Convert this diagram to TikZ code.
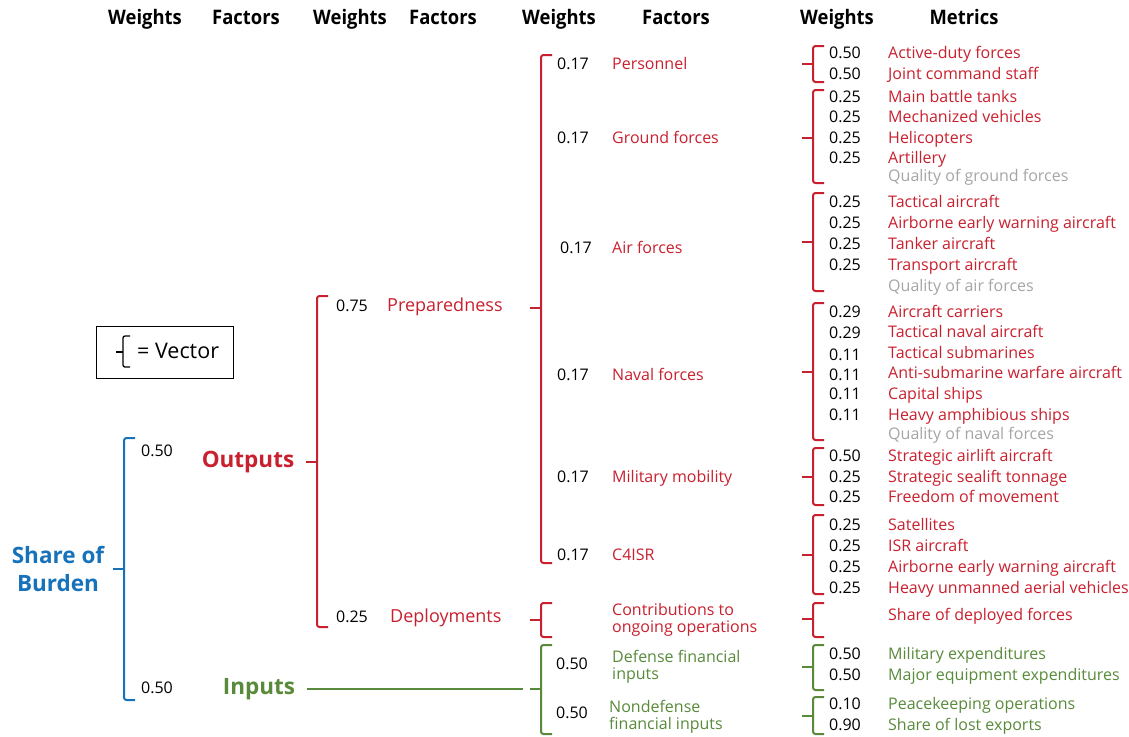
\documentclass[tikz,border=0pt]{standalone}
\usepackage{fontspec}
\setmainfont{Open Sans}
\newfontfamily\hdrfont[FakeStretch=0.92]{Open Sans}
\definecolor{rred}{RGB}{200,32,46}
\definecolor{bblue}{RGB}{22,114,186}
\definecolor{ggreen}{RGB}{88,138,58}
\definecolor{ggrey}{RGB}{165,165,165}
\newcommand{\vbrace}[5]{% colour, x, top, bottom, mid
  \draw[#1,brk] (#2+11,#3) -- (#2,#3) -- (#2,#5) -- (#2,#4) -- (#2+11,#4);
  \draw[#1,brk] (#2-11,#5) -- (#2,#5);}
\newcommand{\mrow}[4]{% y, weight, name, colour
  \node[wt] (mw#1) at (845,#1) {#2};
  \node[nm,text=#4] (mn#1) at (888,#1) {#3};}
\newcommand{\grow}[2]{% y, name (grey, no weight)
  \node[nm,text=ggrey] (mg#1) at (888,#1) {#2};}
\begin{document}
\begin{tikzpicture}[x=1pt,y=-1pt,
  every node/.style={inner sep=0pt,text height=1.4em,text depth=0.2em},
  brk/.style={line width=2pt,rounded corners=2.5pt},
  hdr/.style={font=\hdrfont\bfseries\fontsize{20}{22}\selectfont,anchor=center},
  wt/.style={font=\fontsize{16}{18}\selectfont,anchor=center},
  nm/.style={font=\fontsize{16}{18}\selectfont,anchor=west,text=rred},
  mid/.style={font=\fontsize{18}{20}\selectfont,anchor=west,text=rred},
  big/.style={font=\bfseries\fontsize{22.5}{25}\selectfont,anchor=center}]
\useasboundingbox (0,0) rectangle (1129,736);

% headers
\node[hdr] (h1) at (145,18) {Weights};
\node[hdr] (h2) at (246,18) {Factors};
\node[hdr] (h3) at (350,18) {Weights};
\node[hdr] (h4) at (443,18) {Factors};
\node[hdr] (h5) at (559,18) {Weights};
\node[hdr] (h6) at (676,18) {Factors};
\node[hdr] (h7) at (837,18) {Weights};
\node[hdr] (h8) at (964,18) {Metrics};

% legend
\draw[line width=0.8pt] (96,326) rectangle (233,378);
\draw[line width=1.3pt,rounded corners=2pt] (130,336) -- (123,336) -- (123,352) -- (123,367) -- (130,367);
\draw[line width=1.3pt] (116,352) -- (123,352);
\node[font=\fontsize{21.5}{24}\selectfont,anchor=west] (leg) at (137,352) {= Vector};

% root
\node[big,text=bblue] (sob1) at (58,557) {Share of};
\node[big,text=bblue] (sob2) at (58,585) {Burden};
\vbrace{bblue}{124}{438}{700}{569}
\node[wt] (wout) at (157,450) {0.50};
\node[wt] (win) at (157,687) {0.50};
\node[big,text=rred] (out) at (248,461) {Outputs};
\node[big,text=ggreen] (inp) at (259,688) {Inputs};

% outputs
\vbrace{rred}{317}{296}{627}{462}
\node[wt] (wprep) at (352,305) {0.75};
\node[mid] (prep) at (387,305) {Preparedness};
\node[wt] (wdep) at (352,616) {0.25};
\node[mid] (dep) at (390,616) {Deployments};

% preparedness factors
\vbrace{rred}{541}{55}{563}{308}
\node[wt] (w1) at (573,63) {0.17};  \node[nm] (f1) at (612,63) {Personnel};
\node[wt] (w2) at (573,137) {0.17}; \node[nm] (f2) at (612,137) {Ground forces};
\node[wt] (w3) at (576,247) {0.17}; \node[nm] (f3) at (612,247) {Air forces};
\node[wt] (w4) at (573,374) {0.17}; \node[nm] (f4) at (612,374) {Naval forces};
\node[wt] (w5) at (573,476) {0.17}; \node[nm] (f5) at (612,476) {Military mobility};
\node[wt] (w6) at (573,554) {0.17}; \node[nm] (f6) at (612,554) {C4ISR};

% deployments factor
\vbrace{rred}{541}{603}{637}{620}
\node[nm] (f7a) at (612,609) {Contributions to};
\node[nm] (f7b) at (612,626) {ongoing operations};

% inputs
\coordinate (inend) at (523,689);
\draw[ggreen,line width=2pt] (307,689) -- (inend);
\vbrace{ggreen}{541}{645}{734}{689}
\node[wt] (w8) at (572,663) {0.50};
\node[nm,text=ggreen] (f8a) at (612,656) {Defense financial};
\node[nm,text=ggreen] (f8b) at (612,673) {inputs};
\node[wt] (w9) at (572,712) {0.50};
\node[nm,text=ggreen] (f9a) at (609,706) {Nondefense};
\node[nm,text=ggreen] (f9b) at (609,723) {financial inputs};

% metrics
\vbrace{rred}{813}{46}{82}{64}
\mrow{52}{0.50}{Active-duty forces}{rred}
\mrow{73}{0.50}{Joint command staff}{rred}

\vbrace{rred}{813}{90}{183}{138}
\mrow{96}{0.25}{Main battle tanks}{rred}
\mrow{116}{0.25}{Mechanized vehicles}{rred}
\mrow{137}{0.25}{Helicopters}{rred}
\mrow{157}{0.25}{Artillery}{rred}
\grow{175}{Quality of ground forces}

\vbrace{rred}{813}{193}{291}{242}
\mrow{201}{0.25}{Tactical aircraft}{rred}
\mrow{222}{0.25}{Airborne early warning aircraft}{rred}
\mrow{243}{0.25}{Tanker aircraft}{rred}
\mrow{264}{0.25}{Transport aircraft}{rred}
\grow{285}{Quality of air forces}

\vbrace{rred}{813}{303}{440}{372}
\mrow{311}{0.29}{Aircraft carriers}{rred}
\node[wt] (mw332) at (845,332) {0.29}; \node[nm] (mn331) at (888,331) {Tactical naval aircraft};
\node[wt] (mw354) at (845,354) {0.11}; \node[nm] (mn352) at (888,352) {Tactical submarines};
\node[wt] (mw374) at (845,374) {0.11}; \node[nm] (mn372) at (888,372) {Anti-submarine warfare aircraft};
\mrow{393}{0.11}{Capital ships}{rred}
\mrow{414}{0.11}{Heavy amphibious ships}{rred}
\grow{433}{Quality of naval forces}

\vbrace{rred}{813}{448}{505}{477}
\mrow{455}{0.50}{Strategic airlift aircraft}{rred}
\mrow{476}{0.25}{Strategic sealift tonnage}{rred}
\mrow{496}{0.25}{Freedom of movement}{rred}

\vbrace{rred}{813}{515}{594}{555}
\mrow{524}{0.25}{Satellites}{rred}
\mrow{545}{0.25}{ISR aircraft}{rred}
\mrow{566}{0.25}{Airborne early warning aircraft}{rred}
\mrow{587}{0.25}{Heavy unmanned aerial vehicles}{rred}

\vbrace{rred}{813}{603}{637}{619}
\node[nm] (mdep) at (888,614) {Share of deployed forces};

\vbrace{ggreen}{813}{645}{690}{667}
\mrow{653}{0.50}{Military expenditures}{ggreen}
\mrow{674}{0.50}{Major equipment expenditures}{ggreen}

\vbrace{ggreen}{813}{697}{734}{716}
\mrow{703}{0.10}{Peacekeeping operations}{ggreen}
\mrow{724}{0.90}{Share of lost exports}{ggreen}
\end{tikzpicture}
\end{document}
